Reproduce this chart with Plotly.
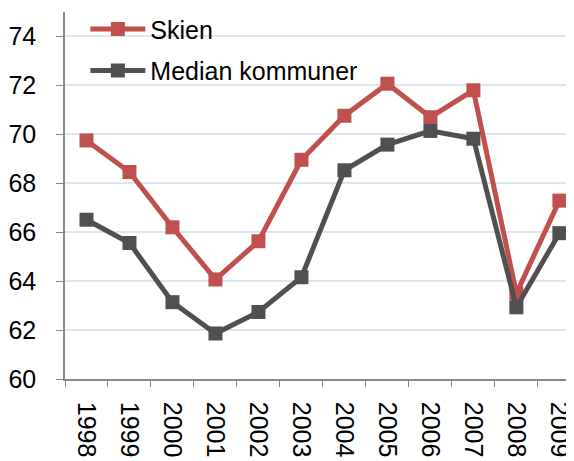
import plotly.graph_objects as go

years = ["1998", "1999", "2000", "2001", "2002", "2003", "2004", "2005", "2006", "2007", "2008", "2009"]
skien = [69.75, 68.46, 66.2, 64.07, 65.63, 68.96, 70.76, 72.07, 70.7, 71.8, 63.5, 67.29]
median = [66.51, 65.56, 63.14, 61.86, 62.74, 64.16, 68.53, 69.58, 70.14, 69.82, 62.93, 65.96]

red = "#C0504D"
dark = "#505050"

fig = go.Figure()
fig.add_trace(go.Scatter(
    x=years, y=skien, name="Skien", mode="lines+markers",
    line=dict(color=red, width=5), marker=dict(symbol="square", size=14, color=red),
    legendgroup="a",
))
fig.add_trace(go.Scatter(
    x=years, y=median, name="Median kommuner", mode="lines+markers",
    line=dict(color=dark, width=5), marker=dict(symbol="square", size=14, color=dark),
    legendgroup="b",
))

# page body has an 8px default margin; figure sized to fill the remaining window
fig.update_layout(
    width=566, height=453,
    margin=dict(l=57, r=0, t=4, b=82, autoexpand=False),
    paper_bgcolor="white", plot_bgcolor="white",
    font=dict(family="Liberation Sans, Arial, sans-serif", size=25, color="black"),
    showlegend=True,
    legend=dict(x=0.04, y=1.016, xanchor="left", yanchor="top", bgcolor="rgba(0,0,0,0)",
                font=dict(size=25), tracegroupgap=6, itemwidth=55),
    xaxis=dict(
        type="category", range=[-0.5, 11.34], automargin=False,
        showline=True, linecolor="#888888", linewidth=1.5,
        ticks="outside", ticklen=6, tickcolor="#888888", tickson="boundaries",
        tickangle=90, showgrid=False, ticklabelstandoff=16,
    ),
    yaxis=dict(
        range=[60, 75], tickvals=[60, 62, 64, 66, 68, 70, 72, 74], automargin=False,
        showline=True, linecolor="#888888", linewidth=1.5,
        ticks="outside", ticklen=7, tickcolor="#888888",
        showgrid=True, gridcolor="#DCE6F2", gridwidth=1.5,
        zeroline=False, ticklabelstandoff=15,
    ),
)

fig.write_html("out.html")
